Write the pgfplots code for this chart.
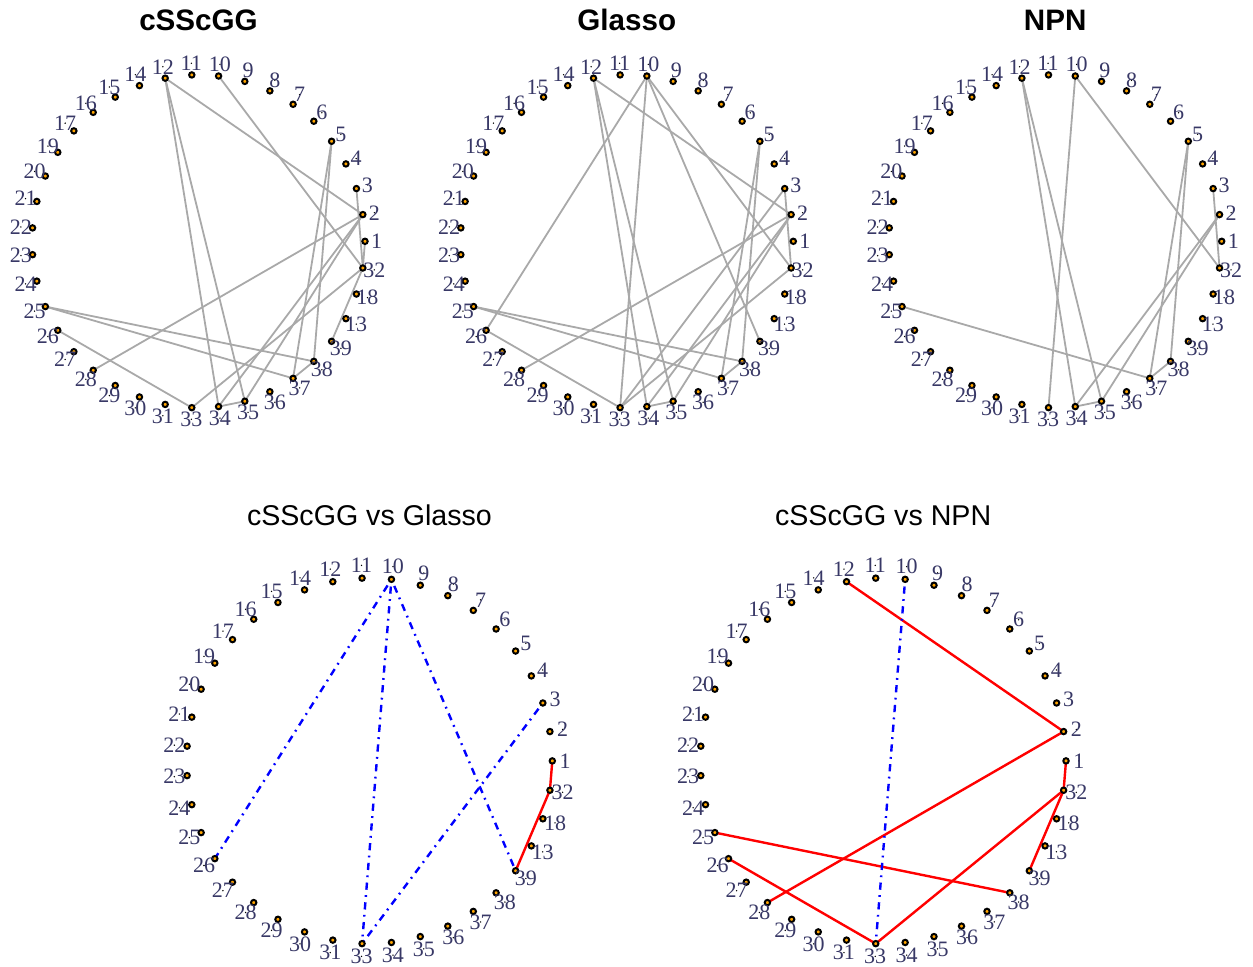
\documentclass[border=0pt]{standalone}
\usepackage{pgfplots}
\pgfplotsset{compat=1.18}
\usepackage{pgfplotstable}
\usepackage{fontspec}
\setmainfont{Liberation Serif}
\newfontfamily\arial{Liberation Sans}

\definecolor{edgegray}{HTML}{A9A9A9}
\definecolor{vorange}{HTML}{FFA500}
\definecolor{labcol}{HTML}{383866}

% nodes on the circle (igraph circle layout), angle in degrees
\pgfplotstableread{
ang r lr name
0 1 1.07 1
9.231 1 1.07 2
18.462 1 1.07 3
27.692 1 1.07 4
36.923 1 1.07 5
46.154 1 1.07 6
55.385 1 1.07 7
64.615 1 1.07 8
73.846 1 1.07 9
83.077 1 1.07 10
92.308 1 1.07 11
101.538 1 1.07 12
110.769 1 1.07 14
120.000 1 1.07 15
129.231 1 1.07 16
138.462 1 1.07 17
147.692 1 1.07 19
156.923 1 1.07 20
166.154 1 1.07 21
175.385 1 1.07 22
184.615 1 1.07 23
193.846 1 1.07 24
203.077 1 1.07 25
212.308 1 1.07 26
221.538 1 1.07 27
230.769 1 1.07 28
240.000 1 1.07 29
249.231 1 1.07 30
258.462 1 1.07 31
267.692 1 1.07 33
276.923 1 1.07 34
286.154 1 1.07 35
295.385 1 1.07 36
304.615 1 1.07 37
313.846 1 1.07 38
323.077 1 1.07 39
332.308 1 1.07 13
341.538 1 1.07 18
350.769 1 1.07 32
}\nodetab

\pgfplotsset{
  net/.style={axis lines=none, clip=false, anchor=center,
    xmin=-1.1, xmax=1.1, ymin=-1.1, ymax=1.1},
  gedge/.style={no marks, draw=edgegray, line width=0.9pt, data cs=polar, forget plot},
  redge/.style={no marks, draw=red, line width=1.2pt, data cs=polar, forget plot},
  bedge/.style={no marks, draw=blue, line width=1.2pt, data cs=polar, forget plot,
    dash pattern=on 0.9pt off 2.7pt on 3.6pt off 2.7pt},
}
\newcommand\E[3][gedge]{\addplot[#1] coordinates {(#2,1) (#3,1)};}
\newcommand\vertices{%
  \addplot[only marks, mark=*, mark size=1.35pt, data cs=polar,
    mark options={draw=black, fill=vorange, line width=1pt}]
    table[x=ang, y=r]{\nodetab};
  \addplot[only marks, mark=*, mark size=0.1pt, data cs=polar,
    mark options={draw=none, fill=none},
    nodes near coords, point meta=explicit symbolic,
    nodes near coords style={anchor=center, inner sep=0pt, text=labcol,
      font=\fontsize{11}{12}\selectfont}]
    table[x=ang, y=lr, meta=name]{\nodetab};
}
\newcommand\toptitle[1]{\node[anchor=base, font=\arial\bfseries\fontsize{14.8}{17}\selectfont] at (axis cs:0,1.265) {#1};}
\newcommand\bottitle[1]{\node[anchor=base, font=\arial\fontsize{14.3}{17}\selectfont] at (axis cs:0,1.286) {#1};}

\begin{document}
\begin{tikzpicture}
\useasboundingbox (0,0) rectangle (626.5pt,483pt);

% cSScGG
\begin{axis}[net, x=83.25pt, y=83.25pt, at={(99.25pt,362.35pt)}]
\E{101.538}{9.231}
\E{101.538}{276.923}
\E{101.538}{286.154}
\E{83.077}{350.769}
\E{36.923}{304.615}
\E{36.923}{313.846}
\E{18.462}{350.769}
\E{0}{350.769}
\E{350.769}{323.077}
\E{9.231}{230.769}
\E{9.231}{276.923}
\E{9.231}{286.154}
\E{350.769}{267.692}
\E{203.077}{313.846}
\E{203.077}{304.615}
\E{212.308}{267.692}
\E{276.923}{286.154}
\E{304.615}{313.846}
\vertices
\toptitle{cSScGG}
\end{axis}

% Glasso
\begin{axis}[net, x=83.25pt, y=83.25pt, at={(313.4pt,362.35pt)}]
\E{101.538}{9.231}
\E{101.538}{276.923}
\E{101.538}{286.154}
\E{83.077}{350.769}
\E{36.923}{304.615}
\E{36.923}{313.846}
\E{18.462}{350.769}
\E{9.231}{230.769}
\E{9.231}{276.923}
\E{9.231}{286.154}
\E{350.769}{267.692}
\E{203.077}{313.846}
\E{203.077}{304.615}
\E{212.308}{267.692}
\E{276.923}{286.154}
\E{304.615}{313.846}
\E{83.077}{212.308}
\E{83.077}{267.692}
\E{83.077}{323.077}
\E{18.462}{267.692}
\vertices
\toptitle{Glasso}
\end{axis}

% NPN
\begin{axis}[net, x=83.25pt, y=83.25pt, at={(527.6pt,362.35pt)}]
\E{101.538}{276.923}
\E{101.538}{286.154}
\E{83.077}{267.692}
\E{83.077}{350.769}
\E{36.923}{304.615}
\E{36.923}{313.846}
\E{18.462}{350.769}
\E{9.231}{276.923}
\E{9.231}{286.154}
\E{203.077}{304.615}
\E{304.615}{313.846}
\E{276.923}{286.154}
\vertices
\toptitle{NPN}
\end{axis}

% cSScGG vs Glasso
\begin{axis}[net, x=91.45pt, y=91.45pt, at={(184.7pt,102.55pt)}]
\E[redge]{0}{350.769}
\E[redge]{350.769}{323.077}
\E[bedge]{83.077}{212.308}
\E[bedge]{83.077}{267.692}
\E[bedge]{83.077}{323.077}
\E[bedge]{18.462}{267.692}
\vertices
\bottitle{cSScGG vs Glasso}
\end{axis}

% cSScGG vs NPN
\begin{axis}[net, x=91.45pt, y=91.45pt, at={(441.55pt,102.55pt)}]
\E[redge]{101.538}{9.231}
\E[redge]{9.231}{230.769}
\E[redge]{203.077}{313.846}
\E[redge]{212.308}{267.692}
\E[redge]{350.769}{267.692}
\E[redge]{0}{350.769}
\E[redge]{350.769}{323.077}
\E[bedge]{83.077}{267.692}
\vertices
\bottitle{cSScGG vs NPN}
\end{axis}
\end{tikzpicture}
\end{document}
